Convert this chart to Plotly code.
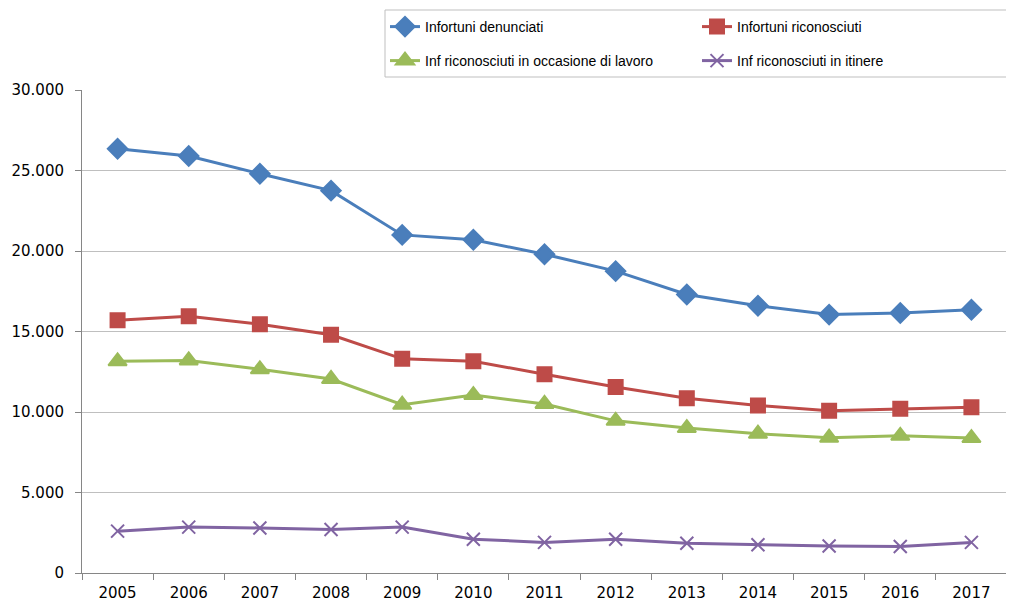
import plotly.graph_objects as go

years = ["2005", "2006", "2007", "2008", "2009", "2010", "2011", "2012", "2013", "2014", "2015", "2016", "2017"]
denunciati = [26350, 25900, 24800, 23750, 21000, 20700, 19800, 18750, 17300, 16600, 16050, 16150, 16350]
riconosciuti = [15700, 15950, 15450, 14800, 13300, 13150, 12350, 11550, 10850, 10400, 10080, 10200, 10300]
occasione_lavoro = [13150, 13200, 12650, 12050, 10450, 11050, 10500, 9450, 9000, 8650, 8400, 8520, 8380]
itinere = [2600, 2850, 2800, 2700, 2850, 2100, 1900, 2100, 1850, 1750, 1680, 1650, 1900]
y_ticks = [0, 5000, 10000, 15000, 20000, 25000, 30000]

names = ["Infortuni denunciati", "Infortuni riconosciuti",
         "Inf riconosciuti in occasione di lavoro", "Inf riconosciuti in itinere"]
colors = ["#4A7EBB", "#BE4B48", "#9BBB59", "#8064A2"]
symbols = ["diamond", "square", "triangle-up", "x-thin"]
sizes = [15, 14, 16, 13]
legends = ["legend", "legend", "legend2", "legend2"]
series = [denunciati, riconosciuti, occasione_lavoro, itinere]

# page body has an 8px margin: figure is drawn 8px right/down
OFF = 8
W, H = 1014 - OFF, 603 - OFF
# plot area in reference pixels: x 82..1007, y 90..573
PL, PR, PT, PB = 82 - OFF, 1007 - OFF, 90 - OFF, 573 - OFF
def px_x(v):
    return (v - OFF - PL) / (PR - PL)
def px_y(v):
    return (PB - (v - OFF)) / (PB - PT)

fig = go.Figure()
for n, c, s, sz, lg, v in zip(names, colors, symbols, sizes, legends, series):
    fig.add_trace(go.Scatter(
        x=years, y=v, name=n, mode="lines+markers", legend=lg,
        line=dict(color=c, width=3),
        marker=dict(symbol=s, size=sz, color=c, line=dict(color=c, width=2)),
    ))

leg_common = dict(
    orientation="h", xanchor="left", yanchor="middle",
    borderwidth=0, bgcolor="rgba(0,0,0,0)",
    entrywidth=267, entrywidthmode="pixels",
    font=dict(family="Liberation Sans, Arial, sans-serif", size=14, color="#000000"),
    itemwidth=30, tracegroupgap=0,
)

fig.update_layout(
    width=W, height=H,
    margin=dict(l=PL, r=W - PR, t=PT, b=H - PB, autoexpand=False),
    paper_bgcolor="white", plot_bgcolor="white",
    separators=",.",
    font=dict(family="DejaVu Sans, sans-serif", size=15, color="#000000"),
    showlegend=True,
    legend=dict(x=px_x(385), y=px_y(27), **leg_common),
    legend2=dict(x=px_x(385), y=px_y(61), **leg_common),
    xaxis=dict(
        type="category", range=[-0.5, len(years) - 0.5],
        showgrid=False, showline=True, linecolor="#868686", linewidth=1,
        ticks="outside", tickson="boundaries", ticklen=6, tickcolor="#868686",
        tickfont=dict(size=15), zeroline=False, ticklabelstandoff=6,
    ),
    yaxis=dict(
        range=[0, 30000], tickvals=y_ticks, tickformat=",d",
        showgrid=True, gridcolor="#BFBFBF", gridwidth=1,
        showline=True, linecolor="#868686", linewidth=1,
        ticks="outside", ticklen=6, tickcolor="#868686",
        tickfont=dict(size=15), zeroline=False, ticklabelstandoff=8,
    ),
    shapes=[
        dict(type="line", xref="paper", yref="paper", x0=1, x1=1, y0=0, y1=1,
             line=dict(color="#BFBFBF", width=1)),
        dict(type="rect", xref="paper", yref="paper",
             x0=px_x(385), x1=px_x(1030), y0=px_y(77), y1=px_y(10),
             line=dict(color="#BFBFBF", width=1), fillcolor="rgba(0,0,0,0)", layer="below"),
    ],
)

fig.write_html("out.html")
